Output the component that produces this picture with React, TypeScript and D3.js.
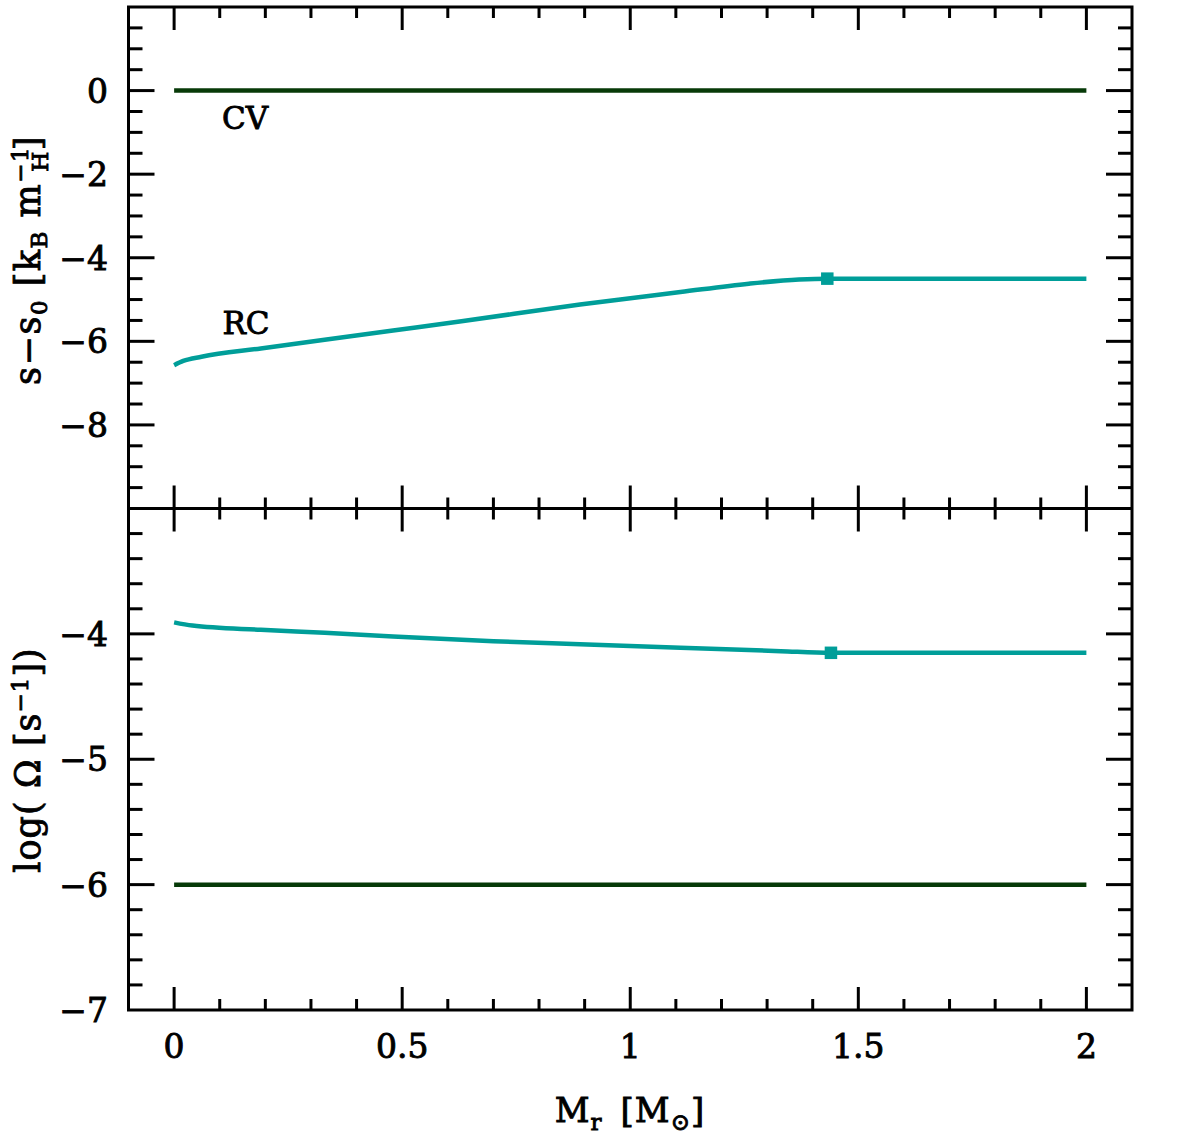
import React from "react";
import * as d3 from "d3";

// Enclosed mass coordinate M_r [M_sun] and profiles for the two models
const cvMass = [0, 2];
const cvEntropy = [0, 0];
const cvLogOmega = [-6, -6];

const rcMassS = [0, 0.02, 0.06, 0.19, 0.33, 0.48, 0.63, 0.89, 1.11, 1.26, 1.37, 1.432, 2.0];
const rcEntropy = [-6.57, -6.47, -6.37, -6.17, -5.96, -5.74, -5.52, -5.12, -4.82, -4.62, -4.52, -4.5, -4.5];

const rcMassW = [0, 0.04, 0.19, 0.33, 0.48, 0.7, 0.89, 1.11, 1.33, 1.44, 2.0];
const rcLogOmega = [-3.908, -3.934, -3.968, -3.992, -4.021, -4.058, -4.083, -4.111, -4.138, -4.151, -4.151];

// Core-edge markers
const markerMassS = 1.432;
const markerMassW = 1.44;

const xMajor = [0, 0.5, 1, 1.5, 2];
const xTickLabels = ["0", "0.5", "1", "1.5", "2"];
const sMajor = [-8, -6, -4, -2, 0];
const wMajor = [-7, -6, -5, -4];

const W = 1185;
const H = 1137;
const left = 128.5;
const right = 1132;
const top = 7;
const mid = 508.5;
const bottom = 1010;

const CV_COLOR = "#073a08";
const RC_COLOR = "#009e99";
const FONT = "'DejaVu Serif', serif";

const x = d3.scaleLinear().domain([-0.1, 2.1]).range([left, right]);
const yS = d3.scaleLinear().domain([-10, 2]).range([mid, top]);
const yW = d3.scaleLinear().domain([-7, -3]).range([bottom, mid]);

const fmt = (v: number) => (v < 0 ? "\u2212" + Math.abs(v) : String(v));

function range(a: number, b: number, step: number) {
  const out: number[] = [];
  const n = Math.round((b - a) / step);
  for (let i = 0; i <= n; i++) out.push(+(a + i * step).toFixed(6));
  return out;
}

function Panel({
  y,
  yMinor,
  yMajor,
  y0,
  y1,
}: {
  y: d3.ScaleLinear<number, number>;
  yMinor: number[];
  yMajor: number[];
  y0: number;
  y1: number;
}) {
  const xMinor = range(-0.1, 2.1, 0.1).filter((v) => !xMajor.some((m) => Math.abs(m - v) < 1e-6));
  const yMinorOnly = yMinor.filter((v) => !yMajor.some((m) => Math.abs(m - v) < 1e-6));
  const items: React.ReactNode[] = [];
  // x ticks on top and bottom edges (inward)
  xMinor.forEach((v, i) => {
    const px = x(v);
    if (px <= left + 2 || px >= right - 2) return;
    items.push(<line key={"xt" + i} x1={px} x2={px} y1={y0} y2={y0 + 11} />);
    items.push(<line key={"xb" + i} x1={px} x2={px} y1={y1} y2={y1 - 11} />);
  });
  xMajor.forEach((v, i) => {
    const px = x(v);
    items.push(<line key={"Xt" + i} x1={px} x2={px} y1={y0} y2={y0 + 23} />);
    items.push(<line key={"Xb" + i} x1={px} x2={px} y1={y1} y2={y1 - 23} />);
  });
  yMinorOnly.forEach((v, i) => {
    const py = y(v);
    if (py <= y0 + 2 || py >= y1 - 2) return;
    items.push(<line key={"yl" + i} x1={left} x2={left + 14} y1={py} y2={py} />);
    items.push(<line key={"yr" + i} x1={right} x2={right - 14} y1={py} y2={py} />);
  });
  yMajor.forEach((v, i) => {
    const py = y(v);
    if (py <= y0 + 2 || py >= y1 - 2) return;
    items.push(<line key={"Yl" + i} x1={left} x2={left + 26} y1={py} y2={py} />);
    items.push(<line key={"Yr" + i} x1={right} x2={right - 26} y1={py} y2={py} />);
  });
  return (
    <g stroke="#000" strokeWidth={3} fill="none">
      {items}
    </g>
  );
}

export default function App() {
  const lineS = d3
    .line<number>()
    .x((_, i) => x(rcMassS[i]))
    .y((d) => yS(d))
    .curve(d3.curveMonotoneX);
  const lineW = d3
    .line<number>()
    .x((_, i) => x(rcMassW[i]))
    .y((d) => yW(d))
    .curve(d3.curveMonotoneX);
  const cvS = d3
    .line<number>()
    .x((_, i) => x(cvMass[i]))
    .y((d) => yS(d));
  const cvW = d3
    .line<number>()
    .x((_, i) => x(cvMass[i]))
    .y((d) => yW(d));

  const mSize = 12.5;
  const markS = rcEntropy[rcMassS.indexOf(markerMassS)];
  const markW = rcLogOmega[rcMassW.indexOf(markerMassW)];

  // text style: regular weight thickened with a thin outline
  const ts = { fill: "#000", stroke: "#000", strokeWidth: 0.9 };

  return (
    <svg
      width={W}
      height={H}
      style={{ position: "absolute", left: 0, top: 0, background: "#fff" }}
      fontFamily={FONT}
    >
      {/* data lines */}
      <path d={cvS(cvEntropy) || ""} stroke={CV_COLOR} strokeWidth={4.5} fill="none" />
      <path d={lineS(rcEntropy) || ""} stroke={RC_COLOR} strokeWidth={4.5} fill="none" />
      <path d={cvW(cvLogOmega) || ""} stroke={CV_COLOR} strokeWidth={4.5} fill="none" />
      <path d={lineW(rcLogOmega) || ""} stroke={RC_COLOR} strokeWidth={4.5} fill="none" />
      <rect
        x={x(markerMassS) - mSize / 2}
        y={yS(markS) - mSize / 2}
        width={mSize}
        height={mSize}
        fill={RC_COLOR}
      />
      <rect
        x={x(markerMassW) - mSize / 2}
        y={yW(markW) - mSize / 2}
        width={mSize}
        height={mSize}
        fill={RC_COLOR}
      />

      {/* model labels */}
      <text x={245} y={129} fontSize={31} textAnchor="middle" {...ts}>
        CV
      </text>
      <text x={246} y={334} fontSize={31} textAnchor="middle" {...ts}>
        RC
      </text>

      {/* ticks */}
      <Panel y={yS} yMinor={range(-10, 2, 0.5)} yMajor={sMajor} y0={top} y1={mid} />
      <Panel y={yW} yMinor={range(-7, -3, 0.2)} yMajor={wMajor} y0={mid} y1={bottom} />

      {/* frames */}
      <rect x={left} y={top} width={right - left} height={bottom - top} fill="none" stroke="#000" strokeWidth={3} />
      <line x1={left} x2={right} y1={mid} y2={mid} stroke="#000" strokeWidth={3} />

      {/* y tick labels */}
      {sMajor.map((v) => (
        <text key={"sl" + v} x={108} y={yS(v) + 12} fontSize={33} textAnchor="end" {...ts}>
          {fmt(v)}
        </text>
      ))}
      {wMajor.map((v) => (
        <text key={"wl" + v} x={108} y={yW(v) + 12} fontSize={33} textAnchor="end" {...ts}>
          {fmt(v)}
        </text>
      ))}

      {/* x tick labels */}
      {xMajor.map((v, i) => (
        <text key={"xl" + v} x={x(v)} y={1058} fontSize={33} textAnchor="middle" {...ts}>
          {xTickLabels[i]}
        </text>
      ))}

      {/* axis titles */}
      <text x={630} y={1122} fontSize={34} textAnchor="middle" letterSpacing={1} {...ts}>
        <tspan>M</tspan>
        <tspan fontSize={23} dy={8}>r</tspan>
        <tspan dy={-8}>{"\u2002[M"}</tspan>
        <tspan fontSize={23} dy={8}>{"\u2299"}</tspan>
        <tspan dy={-8}>]</tspan>
      </text>

      <text
        transform={`translate(40, 260) rotate(-90)`}
        fontSize={35}
        textAnchor="middle"
        letterSpacing={1.5}
        {...ts}
      >
        <tspan>s{"\u2212"}s</tspan>
        <tspan fontSize={23} dy={7}>0</tspan>
        <tspan dy={-7}>{" [k"}</tspan>
        <tspan fontSize={23} dy={7}>B</tspan>
        <tspan dy={-7}>{" m"}</tspan>
        <tspan fontSize={23} dy={-12}>{"\u22121"}</tspan>
        <tspan fontSize={23} dx={-26} dy={20}>H</tspan>
        <tspan dy={-8}>]</tspan>
      </text>

      <text
        transform={`translate(40, 760) rotate(-90)`}
        fontSize={35}
        textAnchor="middle"
        letterSpacing={1}
        {...ts}
      >
        <tspan>log( {"\u03A9"} [s</tspan>
        <tspan fontSize={23} dy={-12}>{"\u22121"}</tspan>
        <tspan dy={12}>])</tspan>
      </text>
    </svg>
  );
}
